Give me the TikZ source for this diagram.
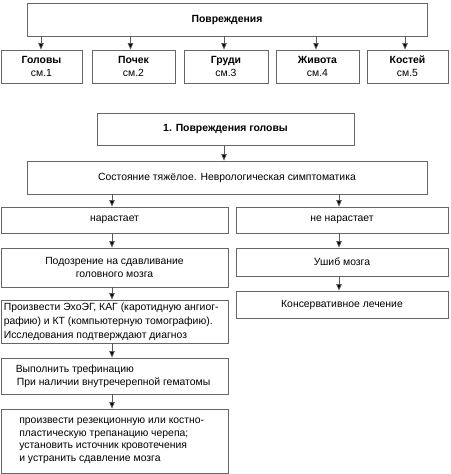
\documentclass[tikz,border=0pt]{standalone}
\usepackage{fontspec}
\setmainfont{Liberation Sans}
\usetikzlibrary{arrows.meta}
\begin{document}
\begin{tikzpicture}[x=1pt,y=-1pt,
  box/.style={draw=black!60,line width=0.8pt,rectangle,inner sep=0pt,align=center,font=\fontsize{10.4}{13}\selectfont},
  txt/.style={inner sep=0pt,anchor=west,align=left,font=\fontsize{10.4}{13}\selectfont},
  arr/.style={draw=black!65,line width=0.8pt,-{Triangle[length=6.5pt,width=5.5pt,fill=black]}}]
\useasboundingbox (0,0) rectangle (450,474);
\node[box,minimum width=400,minimum height=33] (top) at (227,19.5) {\textbf{Повреждения}};
\node[box,minimum width=81,minimum height=33] (b1) at (41.5,66.5) {\textbf{Головы}\\см.1};
\node[box,minimum width=83,minimum height=33] (b2) at (133.5,66.5) {\textbf{Почек}\\см.2};
\node[box,minimum width=84,minimum height=33] (b3) at (226,66.5) {\textbf{Груди}\\см.3};
\node[box,minimum width=83,minimum height=33] (b4) at (317.5,66.5) {\textbf{Живота}\\см.4};
\node[box,minimum width=81,minimum height=33] (b5) at (407.5,66.5) {\textbf{Костей}\\см.5};
\foreach \b/\dx in {b1/-0.5,b2/-3,b3/-2,b4/-1.5,b5/-2.5}
  \draw[arr] ([xshift=\dx pt]top.south -| \b.north) -- ([xshift=\dx pt]\b.north);
\node[box,minimum width=257,minimum height=32] (h1) at (225.5,129) {\textbf{1. Повреждения головы}};
\node[box,minimum width=400,minimum height=33] (st) at (227,177.5) {Состояние тяжёлое. Неврологическая симптоматика};
\draw[arr] ([xshift=-1.5pt]h1.south) -- ([xshift=-1.5pt]h1.south |- st.north);
\node[box,minimum width=227,minimum height=26] (L1) at (114.5,220) {нарастает};
\node[box,minimum width=212,minimum height=26] (R1) at (342,220) {не нарастает};
\draw[arr] ([xshift=-2.5pt]st.south -| L1.north) -- ([xshift=-2.5pt]L1.north);
\draw[arr] ([xshift=-3pt]st.south -| R1.north) -- ([xshift=-3pt]R1.north);
\node[box,minimum width=227,minimum height=39] (L2) at (114.5,267.5) {Подозрение на сдавливание\\головного мозга};
\node[box,minimum width=212,minimum height=28] (R2) at (342,262) {Ушиб мозга};
\node[box,minimum width=212,minimum height=27] (R3) at (342,304.5) {Консервативное лечение};
\node[box,minimum width=227,minimum height=43] (L3) at (114.5,321.5) {};
\node[txt,font=\fontsize{10.4}{14}\selectfont] (L3t) at ([xshift=3pt]L3.west) {Произвести ЭхоЭГ, КАГ (каротидную ангиог-\\рафию) и КТ (компьютерную томографию).\\Исследования подтверждают диагноз};
\node[box,minimum width=227,minimum height=36] (L4) at (114.5,376) {};
\node[txt] (L4t) at ([xshift=15pt]L4.west) {Выполнить трефинацию\\\hspace*{1pt}При наличии внутречерепной гематомы};
\node[box,minimum width=227,minimum height=64] (L5) at (114.5,441) {};
\node[txt,font=\fontsize{10.4}{12.5}\selectfont] (L5t) at ([xshift=18.5pt]L5.west) {произвести резекционную или костно-\\пластическую трепанацию черепа;\\установить источник кровотечения\\и устранить сдавление мозга};
\foreach \a/\b in {L1/L2,L2/L3,L3/L4,L4/L5}
  \draw[arr] ([xshift=-2.5pt]\a.south) -- ([xshift=-2.5pt]\b.north);
\foreach \a/\b in {R1/R2,R2/R3}
  \draw[arr] ([xshift=-3pt]\a.south) -- ([xshift=-3pt]\b.north);
\end{tikzpicture}
\end{document}
